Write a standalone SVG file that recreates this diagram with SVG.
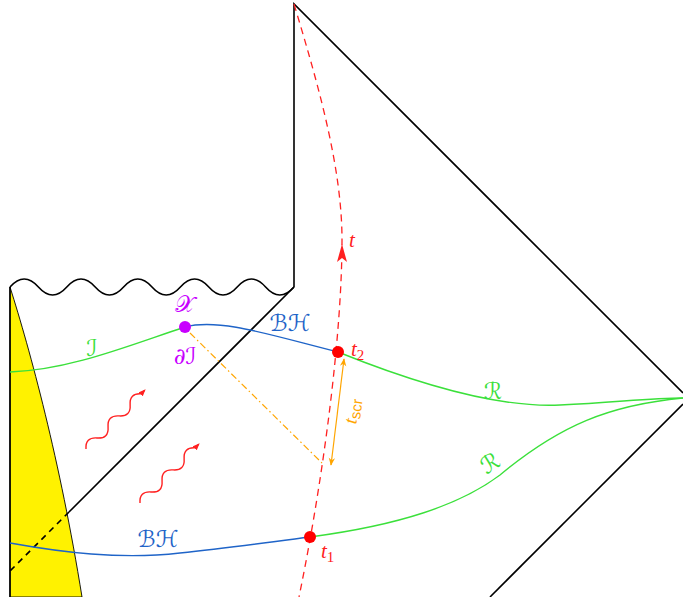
<svg xmlns="http://www.w3.org/2000/svg" width="683" height="597" viewBox="0 0 683 597">
<style>
.blk{fill:none;stroke:#000;stroke-width:1.6}
.grn{fill:none;stroke:#3be03b;stroke-width:1.4}
.blu{fill:none;stroke:#1f64c8;stroke-width:1.4}
.red{fill:none;stroke:#ff2020;stroke-width:1.3;stroke-dasharray:7 5}
.org{fill:none;stroke:#ffa500;stroke-width:1.2}
.wav{fill:none;stroke:#ff2020;stroke-width:1.4}
.lab{font-family:"DejaVu Serif","DejaVu Sans",serif;font-size:23px}
.ti{font-family:"Liberation Serif",serif;font-style:italic;font-size:21px;fill:#ff2020}
</style>
<defs>
<marker id="ah" viewBox="0 0 10 10" refX="8" refY="5" markerWidth="7" markerHeight="7" orient="auto" markerUnits="userSpaceOnUse">
<path d="M0,1 L10,5 L0,9 z" fill="#ff2020"/>
</marker>
<marker id="oa" viewBox="0 0 10 10" refX="9" refY="5" markerWidth="8" markerHeight="8" orient="auto-start-reverse" markerUnits="userSpaceOnUse">
<path d="M0,1 L10,5 L0,9 L3,5 z" fill="#ffa500"/>
</marker>
</defs>

<g id="matter">
<path d="M10,287 C30,350 60,460 82,597 L10,597 Z" fill="#fff200" stroke="#000" stroke-width="0.9"/>
</g>

<g id="frame">
<path class="blk" d="M10,597 L10,287"/>
<path class="blk" d="M10,287 q14.2,-16 28.4,0 t28.4,0 t28.4,0 t28.4,0 t28.4,0 t28.4,0 t28.4,0 t28.4,0 t28.4,0 t28.4,0"/>
<path class="blk" d="M294,287 L294,4 L683,393"/>
<path class="blk" d="M683,404 L490,597"/>
<path class="blk" d="M294,287 L69,512"/>
<path class="blk" d="M69,512 L10,571" stroke-dasharray="6 5"/>
</g>

<g id="connectors">
<path class="grn" d="M10,372 C70,370 130,345 185,327"/>
<path class="blu" d="M185,327 C220,318 270,335 338,352"/>
<path class="grn" d="M338,352 C420,385 500,408 560,405 C620,402 650,398 683,398"/>
<path class="blu" d="M10,543 C60,552 120,560 180,553 C230,548 270,542 310,537"/>
<path class="grn" d="M310,537 C400,525 460,505 500,475 C560,425 610,405 683,398"/>
<path class="red" d="M294,4 C320,90 342,170 342,240 C342,330 325,470 299,597"/>
<path class="org" d="M190,333 L322,463" stroke-dasharray="7 3 1.5 3"/>
<path class="org" d="M344,359 L331,465" marker-start="url(#oa)" marker-end="url(#oa)"/>
</g>

<g id="t-arrow">
<path d="M342,244 L347,262 L342,258 L337,262 Z" fill="#ff2020"/>
<text class="ti" x="349" y="247">t</text>
</g>

<g id="radiation1" transform="translate(86,449) rotate(-45)">
<path class="wav" d="M0,0 q7.8,-9 15.6,0 t15.6,0 t15.6,0 t15.6,0 t15.6,0 l5,0" marker-end="url(#ah)"/>
</g>
<g id="radiation2" transform="translate(140,503) rotate(-45)">
<path class="wav" d="M0,0 q7.8,-9 15.6,0 t15.6,0 t15.6,0 t15.6,0 t15.6,0 l5,0" marker-end="url(#ah)"/>
</g>

<g id="X">
<circle cx="185" cy="327" r="6" fill="#c800ff"/>
<text class="lab" x="185" y="312" fill="#c800ff" text-anchor="middle">𝒳</text>
<text class="lab" x="185" y="364" fill="#c800ff" text-anchor="middle">∂ℐ</text>
</g>
<g id="t2">
<circle cx="338" cy="352" r="6" fill="#ff0000"/>
<text class="ti" x="351" y="356">t<tspan font-style="normal" font-size="15" dy="4">2</tspan></text>
</g>
<g id="t1">
<circle cx="310" cy="537" r="6" fill="#ff0000"/>
<text class="ti" x="321" y="558">t<tspan font-style="normal" font-size="15" dy="4">1</tspan></text>
</g>

<g id="labels">
<text class="lab" x="92" y="356" fill="#3be03b" text-anchor="middle">ℐ</text>
<text class="lab" x="290" y="331" fill="#1f64c8" text-anchor="middle">ℬℋ</text>
<text class="lab" x="158" y="547" fill="#1f64c8" text-anchor="middle">ℬℋ</text>
<text class="lab" x="493" y="399" fill="#3be03b" text-anchor="middle">ℛ</text>
<text class="lab" x="490" y="471" fill="#3be03b" text-anchor="middle" transform="rotate(-32 490 463)">ℛ</text>
<text x="0" y="0" transform="translate(358,412) rotate(-82)" text-anchor="middle" fill="#ffa500" font-size="19"><tspan font-family="Liberation Serif,serif" font-style="italic">t</tspan><tspan font-family="Liberation Sans,sans-serif" font-size="15" dy="3">scr</tspan></text>
</g>
</svg>
